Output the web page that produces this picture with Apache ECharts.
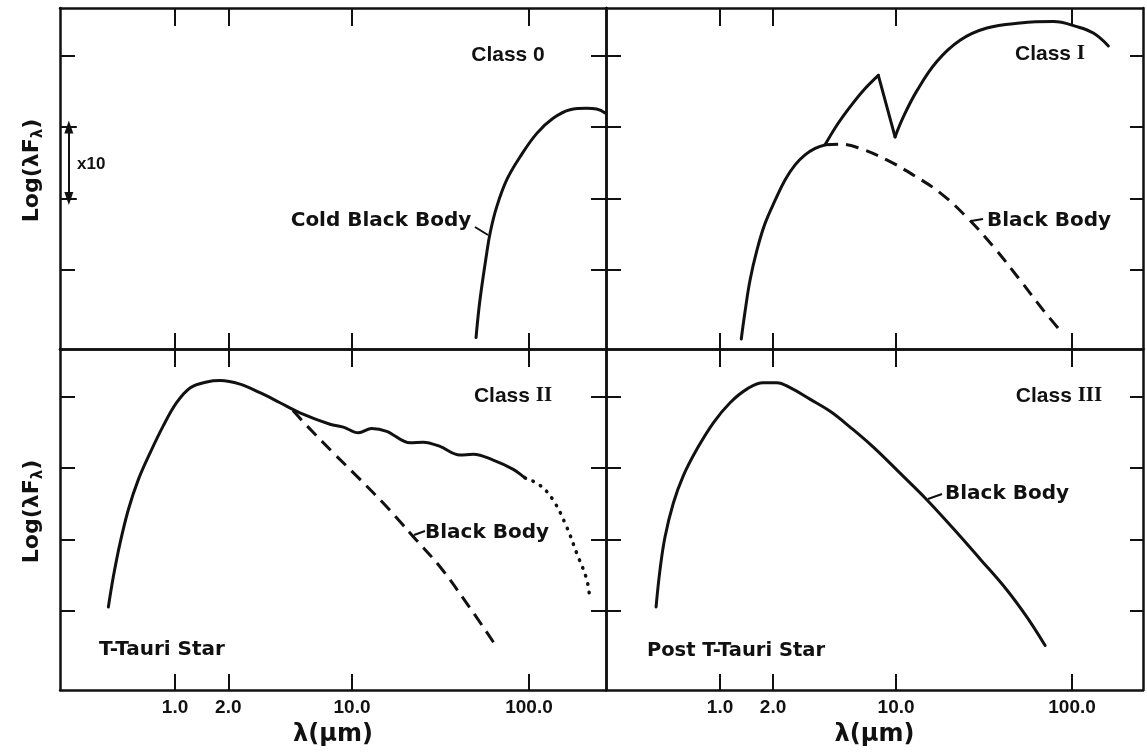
<!DOCTYPE html>
<html>
<head>
<meta charset="utf-8">
<script src="https://cdn.jsdelivr.net/npm/echarts@6/dist/echarts.min.js"></script>
<style>
html,body{margin:0;padding:0;background:#fff;}
#chart{width:1147px;height:755px;}
</style>
</head>
<body>
<div id="chart"></div>
<script>
// ---------- data (λ in µm, flux in log(λFλ) decades) ----------
const tickLambda = [1, 2, 10, 100];
const tickLabels = ['1.0', '2.0', '10.0', '100.0'];
const yTickValues = [1, 2, 3, 4];

// Class 0 : cold black body
const c0Lambda = [50.2, 52.8, 57.7, 60.3, 65.6, 74.8, 88.9, 110.7, 136.8, 170.6, 211.8, 241, 271];
const c0Flux   = [0.06, 0.58, 1.24, 1.52, 1.88, 2.26, 2.58, 2.91, 3.12, 3.24, 3.26, 3.25, 3.19];

// Class I
const c1RiseLambda = [1.32, 1.39, 1.48, 1.62, 1.80, 2.06, 2.34, 2.67, 3.04, 3.47, 3.95];
const c1RiseFlux   = [0.04, 0.44, 0.86, 1.28, 1.65, 1.98, 2.26, 2.47, 2.61, 2.70, 2.75];
const c1ExcessLambda = [3.95, 4.60, 5.48, 6.52, 7.93];
const c1ExcessFlux   = [2.75, 3.02, 3.28, 3.51, 3.72];
const c1DipLambda = [7.93, 9.87];
const c1DipFlux   = [3.72, 2.86];
const c1FarLambda = [9.87, 11.0, 13.1, 17.0, 23.1, 32.8, 50.7, 78.3, 106.4, 132.1, 160.8];
const c1FarFlux   = [2.86, 3.14, 3.50, 3.91, 4.21, 4.38, 4.45, 4.47, 4.40, 4.31, 4.13];
const c1BBLambda = [3.95, 4.81, 6.24, 8.85, 12.5, 17.8, 25.2, 35.7, 50.7, 68.7, 85.5];
const c1BBFlux   = [2.75, 2.76, 2.70, 2.54, 2.33, 2.08, 1.74, 1.33, 0.86, 0.44, 0.16];

// Class II : T-Tauri star
const c2Lambda = [0.420, 0.448, 0.489, 0.545, 0.621, 0.723, 0.859, 1.02, 1.22, 1.51, 1.80, 2.33, 3.02, 3.92, 5.08, 7.51, 8.93, 10.86, 12.92, 15.7, 21.3, 25.3, 31.4, 40.7, 48.4, 62.8, 81.5, 95];
const c2Flux   = [1.06, 1.48, 1.95, 2.42, 2.84, 3.21, 3.59, 3.91, 4.12, 4.20, 4.22, 4.17, 4.05, 3.91, 3.77, 3.61, 3.57, 3.49, 3.55, 3.51, 3.35, 3.36, 3.30, 3.18, 3.19, 3.11, 2.98, 2.86];
const c2DotLambda = [95, 115, 137, 163, 186, 212, 221];
const c2DotFlux   = [2.86, 2.76, 2.55, 2.18, 1.81, 1.44, 1.15];
const c2BBLambda = [4.64, 5.55, 7.84, 11.1, 15.0, 18.7, 22.2, 31.4, 44.5, 65.7];
const c2BBFlux   = [3.80, 3.59, 3.21, 2.84, 2.51, 2.25, 2.04, 1.62, 1.11, 0.50];

// Class III : post T-Tauri star
const c3Lambda = [0.433, 0.456, 0.487, 0.543, 0.618, 0.738, 0.916, 1.14, 1.42, 1.76, 2.10, 2.50, 3.24, 4.22, 5.48, 7.43, 10.5, 14.9, 21.2, 30.0, 42.5, 55.3, 70.3];
const c3Flux   = [1.06, 1.58, 2.04, 2.51, 2.89, 3.26, 3.63, 3.91, 4.10, 4.19, 4.19, 4.12, 3.96, 3.79, 3.57, 3.29, 2.93, 2.56, 2.15, 1.73, 1.30, 0.92, 0.52];

// ---------- build ----------
const INK = '#111';
const FONT = '"DejaVu Sans", sans-serif';
const LIB = '"Liberation Sans", Arial, sans-serif';
const pts = (lam, f) => lam.map((l, i) => [Math.log10(l), f[i]]);
const tickLog = tickLambda.map(v => Math.log10(v));
const fmtTick = v => {
  let best = 0;
  tickLog.forEach((t, i) => { if (Math.abs(t - v) < Math.abs(tickLog[best] - v)) best = i; });
  return tickLabels[best];
};

const grids = [
  {left: 60, top: 8, width: 546, height: 341},
  {left: 606, top: 8, width: 537, height: 341},
  {left: 60, top: 349, width: 546, height: 341},
  {left: 606, top: 349, width: 537, height: 341}
];
const xRanges = [[-0.650, 2.435], [-0.648, 2.403], [-0.650, 2.435], [-0.648, 2.403]];
const yRange = [-0.1, 4.66];

const axisLine = {show: true, onZero: false, lineStyle: {color: INK, width: 2.5}};
const xAxes = [], yAxes = [];
for (let g = 0; g < 4; g++) {
  const bottomRow = g >= 2;
  xAxes.push({
    type: 'value', gridIndex: g, position: 'bottom',
    min: xRanges[g][0], max: xRanges[g][1],
    axisLine, splitLine: {show: false},
    axisTick: {show: true, inside: true, length: 16, customValues: tickLog, lineStyle: {color: INK, width: 2}},
    axisLabel: {show: bottomRow, customValues: tickLog, formatter: fmtTick, margin: 8,
      color: INK, fontSize: 19, fontWeight: 'bold', fontFamily: LIB},
    name: bottomRow ? 'λ(μm)' : '', nameLocation: 'middle', nameGap: 33,
    nameTextStyle: {color: INK, fontSize: 24, fontWeight: 'bold', fontFamily: FONT}
  });
}
for (let g = 0; g < 4; g++) {
  xAxes.push({
    type: 'value', gridIndex: g, position: 'top',
    min: xRanges[g][0], max: xRanges[g][1],
    axisLine, splitLine: {show: false},
    axisTick: {show: true, inside: true, length: 18, customValues: tickLog, lineStyle: {color: INK, width: 2}},
    axisLabel: {show: false}
  });
}
for (let g = 0; g < 4; g++) {
  const leftCol = g % 2 === 0;
  yAxes.push({
    type: 'value', gridIndex: g, position: 'left',
    min: yRange[0], max: yRange[1],
    axisLine, splitLine: {show: false},
    axisTick: {show: true, inside: true, length: 15, customValues: yTickValues, lineStyle: {color: INK, width: 2}},
    axisLabel: {show: false},
    name: leftCol ? '{a|Log(λF}{s|λ}{a|)}' : '', nameLocation: 'middle', nameGap: 14,
    nameTextStyle: {
      padding: [0, 0, 0, 16],
      rich: {
        a: {fontSize: 22, fontWeight: 'bold', fontFamily: FONT, color: INK, lineHeight: 28},
        s: {fontSize: 15, fontWeight: 'bold', fontFamily: FONT, color: INK, lineHeight: 14, verticalAlign: 'bottom'}
      }
    }
  });
}
for (let g = 0; g < 4; g++) {
  yAxes.push({
    type: 'value', gridIndex: g, position: 'right',
    min: yRange[0], max: yRange[1],
    axisLine, splitLine: {show: false},
    axisTick: {show: true, inside: true, length: g % 2 === 0 ? 15 : 13, customValues: yTickValues, lineStyle: {color: INK, width: 2}},
    axisLabel: {show: false}
  });
}

function line(g, data, opts) {
  opts = opts || {};
  return Object.assign({
    type: 'line', xAxisIndex: g, yAxisIndex: g, data: data,
    symbol: 'none', smooth: opts.smooth === undefined ? 0.4 : opts.smooth,
    silent: true, animation: false, clip: true,
    lineStyle: Object.assign({color: INK, width: 3, cap: 'round', join: 'round'}, opts.lineStyle || {})
  }, opts.extra || {});
}

const arrowX = xRanges[0][0] + 0.05;
const barX = xRanges[0][0] + 0.095;
const series = [
  line(0, pts(c0Lambda, c0Flux), {extra: {
    markLine: {
      silent: true, animation: false, symbol: 'none', label: {show: false},
      lineStyle: {color: INK, width: 2, type: 'solid'},
      data: [
        [{coord: [arrowX, 3], symbol: 'triangle', symbolSize: [9, 13]}, {coord: [arrowX, 2], symbol: 'triangle', symbolSize: [9, 13]}],
        [{coord: [xRanges[0][0], 3]}, {coord: [barX, 3]}],
        [{coord: [xRanges[0][0], 2]}, {coord: [barX, 2]}]
      ]
    }
  }}),
  line(1, pts(c1RiseLambda, c1RiseFlux)),
  line(1, pts(c1ExcessLambda, c1ExcessFlux)),
  line(1, pts(c1DipLambda, c1DipFlux), {smooth: false}),
  line(1, pts(c1FarLambda, c1FarFlux)),
  line(1, pts(c1BBLambda, c1BBFlux), {lineStyle: {type: [13, 8], cap: 'butt'}}),
  line(2, pts(c2Lambda, c2Flux), {smooth: 0.35}),
  line(2, pts(c2DotLambda, c2DotFlux), {lineStyle: {type: [0.5, 8], width: 3.5, cap: 'round'}}),
  line(2, pts(c2BBLambda, c2BBFlux), {lineStyle: {type: [13, 8], cap: 'butt'}}),
  line(3, pts(c3Lambda, c3Flux))
];

const txt = (text, x, y, size, family, align) => ({
  type: 'text', silent: true, z: 100,
  style: {text: text, x: x, y: y, fill: INK, align: align || 'center', verticalAlign: 'middle',
    font: 'bold ' + size + 'px ' + (family || FONT)}
});
const seg = (x1, y1, x2, y2) => ({
  type: 'line', silent: true, z: 100,
  shape: {x1: x1, y1: y1, x2: x2, y2: y2},
  style: {stroke: INK, lineWidth: 2}
});
const classText = (base, roman, x, y, romanFamily) => ({
  type: 'text', silent: true, z: 100,
  style: {text: '{a|' + base + '}{r|' + roman + '}', x: x, y: y, align: 'center', verticalAlign: 'middle',
    rich: {
      a: {fontSize: 21, fontWeight: 'bold', fontFamily: LIB, fill: INK},
      r: {fontSize: 21, fontWeight: 'bold', fontFamily: romanFamily || '"Liberation Serif", serif', fill: INK}
    }}
});

const graphic = [
  classText('Class ', '0', 508, 55, LIB),
  classText('Class ', 'I', 1050, 54),
  classText('Class ', 'II', 513, 396),
  classText('Class ', 'III', 1059, 396),
  txt('Cold Black Body', 381, 221, 20),
  seg(475, 227, 488, 235),
  txt('Black Body', 1049, 221, 20),
  seg(971, 221, 983, 219),
  txt('Black Body', 487, 533, 20),
  seg(414, 535, 425, 531),
  txt('Black Body', 1007, 494, 20),
  seg(928, 499, 942, 494),
  txt('T-Tauri Star', 162, 650, 20),
  txt('Post T-Tauri Star', 736, 651, 19.5),
  txt('x10', 77, 164, 17, LIB, 'left')
];

const chart = echarts.init(document.getElementById('chart'), null, {renderer: 'canvas'});
chart.setOption({
  backgroundColor: '#fff',
  animation: false,
  grid: grids,
  xAxis: xAxes,
  yAxis: yAxes,
  series: series,
  graphic: graphic
});
</script>
</body>
</html>
